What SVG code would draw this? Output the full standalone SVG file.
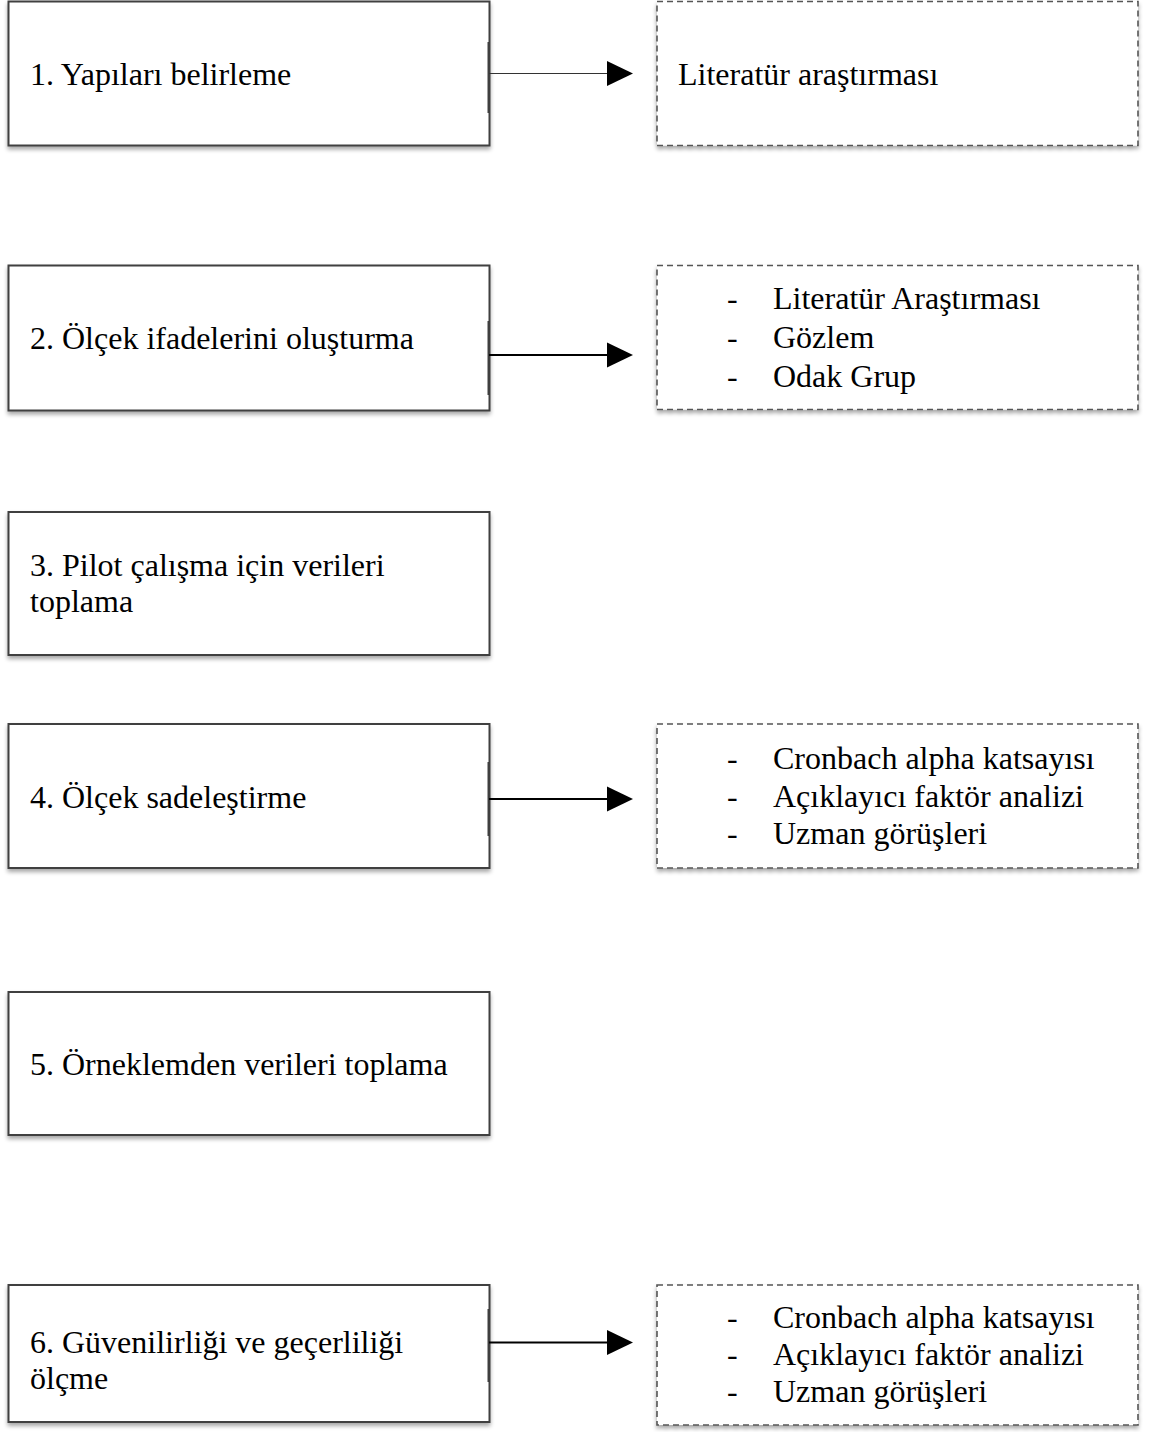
<svg xmlns="http://www.w3.org/2000/svg" width="1149" height="1432" viewBox="0 0 1149 1432">
<style>
  .box { fill: #ffffff; stroke: #3f3f3f; stroke-width: 2; }
  .dbox { fill: #ffffff; stroke: #555555; stroke-width: 1.6; stroke-dasharray: 6 4; }
  .t { font-family: "Liberation Serif", "Times New Roman", serif; font-size: 32px; fill: #000000; }
  .conn { stroke: #000000; stroke-width: 2; fill: none; }
  .thin { stroke: #333333; stroke-width: 1.2; fill: none; }
  .stub { stroke: #3f3f3f; stroke-width: 2; fill: none; }
  .head { fill: #000000; }
</style>
<defs>
  <filter id="sh" x="-5%" y="-5%" width="110%" height="115%">
    <feGaussianBlur in="SourceAlpha" stdDeviation="2"/>
    <feOffset dx="0" dy="3" result="b"/>
    <feComponentTransfer><feFuncA type="linear" slope="0.35"/></feComponentTransfer>
    <feMerge><feMergeNode/><feMergeNode in="SourceGraphic"/></feMerge>
  </filter>
</defs>
<rect width="1149" height="1432" fill="#ffffff"/>

<g id="step1">
  <rect class="box" x="8.5" y="1.5" width="481" height="144" filter="url(#sh)"/>
  <text class="t" x="30" y="85">1. Yapıları belirleme</text>
</g>
<g id="note1">
  <rect class="dbox" x="657" y="1.5" width="481" height="144" filter="url(#sh)"/>
  <text class="t" x="678" y="85">Literatür araştırması</text>
</g>

<g id="step2">
  <rect class="box" x="8.5" y="265.5" width="481" height="145" filter="url(#sh)"/>
  <text class="t" x="30" y="349">2. Ölçek ifadelerini oluşturma</text>
</g>
<g id="note2">
  <rect class="dbox" x="657" y="265.5" width="481" height="144" filter="url(#sh)"/>
  <text class="t" x="727" y="309">-</text>
  <text class="t" x="773" y="309">Literatür Araştırması</text>
  <text class="t" x="727" y="348">-</text>
  <text class="t" x="773" y="348">Gözlem</text>
  <text class="t" x="727" y="387">-</text>
  <text class="t" x="773" y="387">Odak Grup</text>
</g>

<g id="step3">
  <rect class="box" x="8.5" y="512" width="481" height="143" filter="url(#sh)"/>
  <text class="t" x="30" y="576">3. Pilot çalışma için verileri</text>
  <text class="t" x="30" y="612">toplama</text>
</g>

<g id="step4">
  <rect class="box" x="8.5" y="724" width="481" height="144" filter="url(#sh)"/>
  <text class="t" x="30" y="808">4. Ölçek sadeleştirme</text>
</g>
<g id="note4">
  <rect class="dbox" x="657" y="724" width="481" height="144" filter="url(#sh)"/>
  <text class="t" x="727" y="769">-</text>
  <text class="t" x="773" y="769">Cronbach alpha katsayısı</text>
  <text class="t" x="727" y="807">-</text>
  <text class="t" x="773" y="807">Açıklayıcı faktör analizi</text>
  <text class="t" x="727" y="844">-</text>
  <text class="t" x="773" y="844">Uzman görüşleri</text>
</g>

<g id="step5">
  <rect class="box" x="8.5" y="992" width="481" height="143" filter="url(#sh)"/>
  <text class="t" x="30" y="1075">5. Örneklemden verileri toplama</text>
</g>

<g id="step6">
  <rect class="box" x="8.5" y="1285" width="481" height="137" filter="url(#sh)"/>
  <text class="t" x="30" y="1353">6. Güvenilirliği ve geçerliliği</text>
  <text class="t" x="30" y="1389">ölçme</text>
</g>
<g id="note6">
  <rect class="dbox" x="657" y="1285" width="481" height="140" filter="url(#sh)"/>
  <text class="t" x="727" y="1328">-</text>
  <text class="t" x="773" y="1328">Cronbach alpha katsayısı</text>
  <text class="t" x="727" y="1365">-</text>
  <text class="t" x="773" y="1365">Açıklayıcı faktör analizi</text>
  <text class="t" x="727" y="1402">-</text>
  <text class="t" x="773" y="1402">Uzman görüşleri</text>
</g>

<g id="connectors">
  <line class="stub" x1="488.5" y1="42" x2="488.5" y2="113"/>
  <line class="thin" x1="489" y1="73.5" x2="608" y2="73.5"/>
  <polygon class="head" points="607,61 633,73.5 607,86"/>

  <line class="stub" x1="488.5" y1="321" x2="488.5" y2="395"/>
  <line class="conn" x1="489" y1="355" x2="608" y2="355"/>
  <polygon class="head" points="607,342.5 633,355 607,367.5"/>

  <line class="stub" x1="488.5" y1="762" x2="488.5" y2="836"/>
  <line class="conn" x1="489" y1="799" x2="608" y2="799"/>
  <polygon class="head" points="607,786.5 633,799 607,811.5"/>

  <line class="stub" x1="488.5" y1="1309" x2="488.5" y2="1382"/>
  <line class="conn" x1="489" y1="1342.5" x2="608" y2="1342.5"/>
  <polygon class="head" points="607,1330 633,1342.5 607,1355"/>
</g>
</svg>
